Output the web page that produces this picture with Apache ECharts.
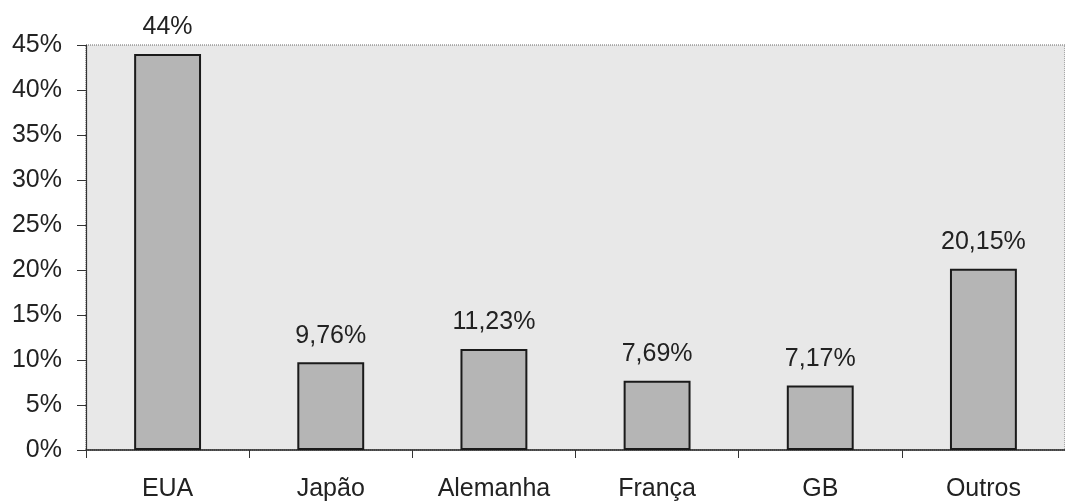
<!DOCTYPE html>
<html>
<head>
<meta charset="utf-8">
<script src="https://cdn.jsdelivr.net/npm/echarts@6/dist/echarts.min.js"></script>
<style>
  html, body { margin: 0; padding: 0; background: #fff; }
  #chart { width: 1065px; height: 502px; }
</style>
</head>
<body>
<div id="chart"></div>
<script>
// categories and shares (%)
const countries = ['EUA', 'Japão', 'Alemanha', 'França', 'GB', 'Outros'];
const shares = [44, 9.76, 11.23, 7.69, 7.17, 20.15];
const shareLabels = ['44%', '9,76%', '11,23%', '7,69%', '7,17%', '20,15%'];

const chart = echarts.init(document.getElementById('chart'));

const font = 'Liberation Sans, Arial, sans-serif';

chart.setOption({
    animation: false,
    grid: {
        left: 86,
        top: 45,
        width: 987,
        height: 405,
        show: true,
        backgroundColor: '#e8e8e8',
        borderColor: '#666',
        borderWidth: 1,
        borderType: 'dotted'
    },
    xAxis: {
        type: 'category',
        data: countries,
        axisLine: { lineStyle: { color: '#222', width: 1.5 } },
        axisTick: { show: true, length: 8, lineStyle: { color: '#333' } },
        axisLabel: { color: '#222', fontSize: 25, fontFamily: font, margin: 27 }
    },
    yAxis: {
        type: 'value',
        min: 0,
        max: 45,
        interval: 5,
        axisLine: { show: true, lineStyle: { color: '#333', width: 1.2 } },
        axisTick: { show: true, length: 9, lineStyle: { color: '#333' } },
        splitLine: { show: false },
        axisLabel: {
            color: '#222', fontSize: 25, fontFamily: font, margin: 24,
            formatter: v => v + '%'
        }
    },
    series: [{
        type: 'bar',
        data: shares,
        barWidth: '41%',
        itemStyle: { color: '#b5b5b5', borderColor: '#1a1a1a', borderWidth: 2 },
        label: {
            show: true,
            position: 'top',
            distance: 14,
            color: '#222',
            fontSize: 25,
            fontFamily: font,
            formatter: p => shareLabels[p.dataIndex]
        }
    }]
});
</script>
</body>
</html>
